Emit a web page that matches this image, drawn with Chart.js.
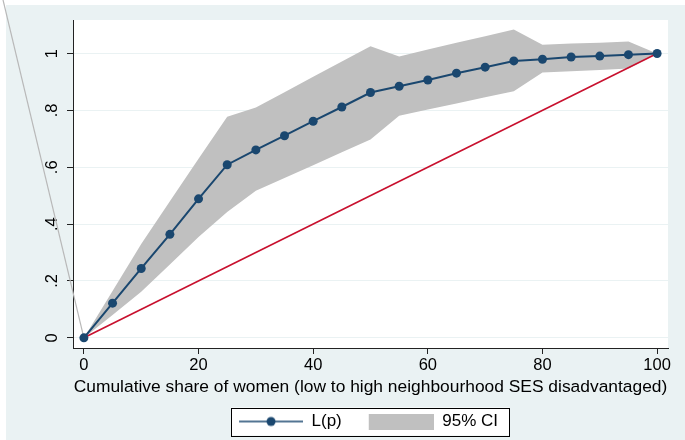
<!DOCTYPE html>
<html>
<head>
<meta charset="utf-8">
<script src="https://cdn.jsdelivr.net/npm/chart.js@4.4.1/dist/chart.umd.min.js"></script>
<style>
  html, body { margin: 0; padding: 0; background: #fff; }
</style>
</head>
<body>
<canvas id="myChart" width="685" height="440"></canvas>
<script>
// ==== data
const pShare = [0, 5, 10, 15, 20, 25, 30, 35, 40, 45, 50, 55, 60, 65, 70, 75, 80, 85, 90, 95, 100];
const lorenz = [0, 0.122, 0.244, 0.364, 0.489, 0.609, 0.661, 0.711, 0.762, 0.812, 0.863,
  0.885, 0.907, 0.931, 0.952, 0.974, 0.980, 0.988, 0.991, 0.996, 1.0];
const ciUpper = [0, 0.165, 0.33, 0.48, 0.63, 0.778, 0.81, 0.864, 0.918, 0.972, 1.026,
  0.99, 1.014, 1.038, 1.061, 1.085, 1.031, 1.035, 1.038, 1.042, 1.0];
const ciLower = [0, 0.08, 0.162, 0.258, 0.355, 0.443, 0.517, 0.562, 0.607, 0.653, 0.698,
  0.781, 0.803, 0.824, 0.846, 0.867, 0.933, 0.938, 0.942, 0.947, 1.0];
// line of equality
const equalityX = [0, 100];
const equalityY = [0, 1];
// stray edge of the CI area that runs off the top-left corner
const strayX = [-14.6, 0];
const strayY = [1.23, 0];

const xTicks = [0, 20, 40, 60, 80, 100];
const yTicks = [0, 0.2, 0.4, 0.6, 0.8, 1];
const yTickLabels = ['0', '.2', '.4', '.6', '.8', '1'];

const xTitle = 'Cumulative share of women (low to high neighbourhood SES disadvantaged)';
const legendLabels = ['L(p)', '95% CI'];

// ==== colours
const navy = '#1A476F';
const bandGray = '#C0C0C0';
const cranberry = '#C8102E';
const stataBg = '#EAF2F3';
const axisColor = '#222';

const toPoints = (xs, ys) => xs.map((x, i) => ({ x: x, y: ys[i] }));

// legend samples (line with marker, grey box)
function lineSample() {
  const c = document.createElement('canvas');
  c.width = 86; c.height = 12;
  const g = c.getContext('2d');
  g.strokeStyle = navy;
  g.lineWidth = 1.5;
  g.beginPath(); g.moveTo(22, 6); g.lineTo(86, 6); g.stroke();
  g.fillStyle = navy;
  g.beginPath(); g.arc(54, 6, 4.5, 0, Math.PI * 2); g.fill();
  return c;
}
function boxSample() {
  const c = document.createElement('canvas');
  c.width = 86; c.height = 16;
  const g = c.getContext('2d');
  g.fillStyle = bandGray;
  g.fillRect(21, 0, 65, 16);
  return c;
}
const samples = [lineSample(), boxSample()];

// background, white plot region and the legend frame
const backdrop = {
  id: 'backdrop',
  afterLayout(chart) {
    // centre the legend under the plot region like Stata does
    const lg = chart.legend, a = chart.chartArea;
    lg.left = a.left - 13;
    lg.right = a.right - 13;
    lg.width = lg.right - lg.left;
  },
  beforeDraw(chart) {
    const ctx = chart.ctx, a = chart.chartArea;
    ctx.save();
    ctx.fillStyle = '#fff';
    ctx.fillRect(0, 0, chart.width, chart.height);
    ctx.fillStyle = stataBg;
    ctx.fillRect(6, 5, chart.width - 6, chart.height - 5);
    ctx.fillStyle = '#fff';
    ctx.fillRect(a.left, a.top, a.right - a.left, a.bottom - a.top);

    const hb = chart.legend.legendHitBoxes;
    if (hb && hb.length) {
      const first = hb[0], last = hb[hb.length - 1];
      const cy = first.top + first.height / 2;
      const l = first.left + 22 - 8;
      const r = last.left + last.width + 11;
      ctx.fillStyle = '#fff';
      ctx.fillRect(l, cy - 14, r - l, 28);
      ctx.strokeStyle = '#000';
      ctx.lineWidth = 1;
      ctx.strokeRect(Math.round(l) + 0.5, Math.round(cy - 14) + 0.5, Math.round(r - l), 28);
    }
    ctx.restore();
  }
};

const data = {
  datasets: [
    {
      label: legendLabels[0],
      data: toPoints(pShare, lorenz),
      borderColor: navy,
      backgroundColor: navy,
      borderWidth: 2,
      pointRadius: 4.5,
      pointBackgroundColor: navy,
      pointBorderColor: navy,
      pointBorderWidth: 0,
      fill: false
    },
    {
      label: 'equality',
      data: toPoints(equalityX, equalityY),
      borderColor: cranberry,
      borderWidth: 1.6,
      pointRadius: 0,
      fill: false
    },
    {
      label: legendLabels[1],
      data: toPoints(pShare, ciUpper),
      borderWidth: 0,
      borderColor: 'rgba(0,0,0,0)',
      backgroundColor: bandGray,
      pointRadius: 0,
      fill: '+1'
    },
    {
      label: 'lower',
      data: toPoints(pShare, ciLower),
      borderWidth: 0,
      borderColor: 'rgba(0,0,0,0)',
      pointRadius: 0,
      fill: false
    },
    {
      label: 'stray',
      data: toPoints(strayX, strayY),
      borderColor: '#B8B8B8',
      borderWidth: 1.2,
      pointRadius: 0,
      fill: false,
      clip: false
    }
  ]
};

const config = {
  type: 'line',
  data,
  options: {
    responsive: false,
    animation: false,
    events: [],
    layout: { padding: { left: 0, right: 17, top: 20, bottom: 0 } },
    plugins: {
      tooltip: { enabled: false },
      legend: {
        position: 'bottom',
        labels: {
          usePointStyle: true,
          pointStyleWidth: 86,
          padding: 6,
          color: '#000',
          font: { family: 'Liberation Sans', size: 17 },
          generateLabels: () => legendLabels.map((t, i) => ({
            text: t,
            pointStyle: samples[i],
            datasetIndex: i === 0 ? 0 : 2,
            fontColor: '#000',
            hidden: false,
            lineWidth: 0
          }))
        }
      }
    },
    scales: {
      x: {
        type: 'linear',
        min: -1.9,
        max: 101.9,
        afterBuildTicks: (s) => { s.ticks = xTicks.map(v => ({ value: v })); },
        afterFit: (s) => { s.height = 59; },
        ticks: {
          autoSkip: false,
          maxRotation: 0,
          padding: 2,
          color: '#000',
          font: { family: 'Liberation Sans', size: 16.5 },
          callback: (v) => String(v)
        },
        grid: {
          drawOnChartArea: false,
          tickLength: 6,
          tickColor: axisColor
        },
        border: { display: true, color: axisColor, width: 1 },
        title: {
          display: true,
          text: xTitle,
          color: '#000',
          font: { family: 'Liberation Sans', size: 17.4 },
          padding: { top: 0, bottom: 9 }
        }
      },
      y: {
        type: 'linear',
        min: -0.0358,
        max: 1.118,
        afterBuildTicks: (s) => { s.ticks = yTicks.map(v => ({ value: v })); },
        afterFit: (s) => { s.width = 73; },
        ticks: {
          autoSkip: false,
          minRotation: 90,
          maxRotation: 90,
          crossAlign: 'center',
          padding: 8,
          color: '#000',
          font: { family: 'Liberation Sans', size: 16.5 },
          callback: (v) => {
            const i = yTicks.findIndex(t => Math.abs(t - v) < 1e-9);
            return i >= 0 ? yTickLabels[i] : '';
          }
        },
        grid: {
          color: stataBg,
          lineWidth: 1,
          tickLength: 6,
          tickColor: axisColor
        },
        border: { display: true, color: axisColor, width: 1 }
      }
    }
  },
  plugins: [backdrop]
};

const myChart = new Chart(document.getElementById('myChart'), config);
</script>
</body>
</html>
